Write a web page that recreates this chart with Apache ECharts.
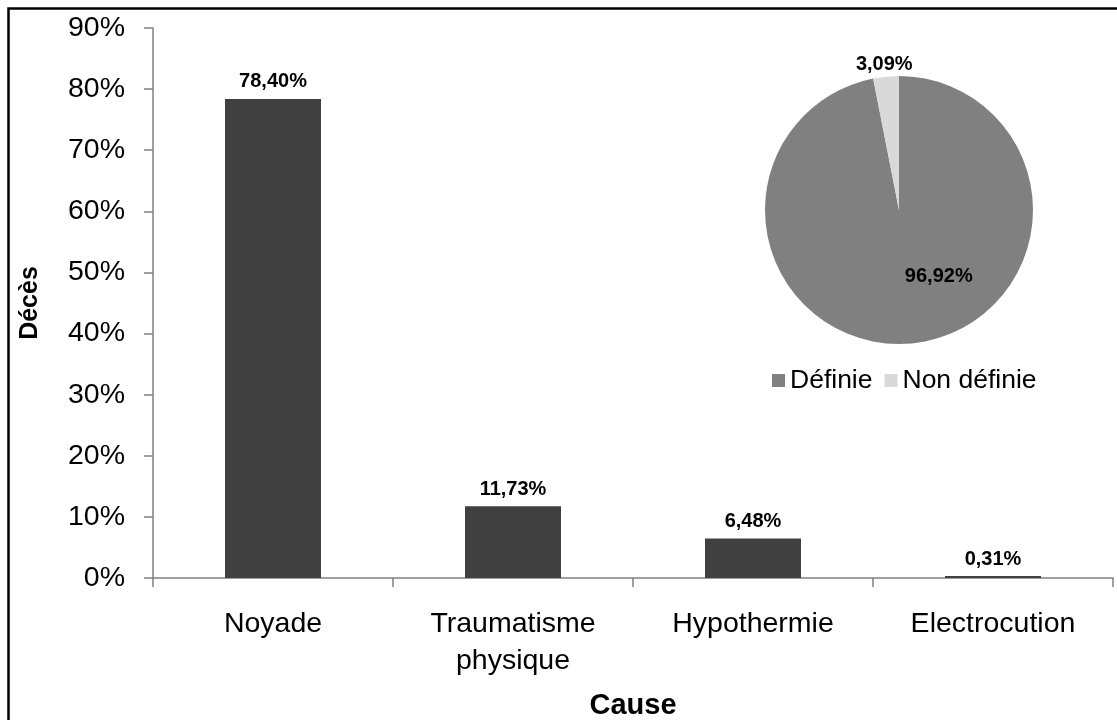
<!DOCTYPE html>
<html>
<head>
<meta charset="utf-8">
<style>
  html, body { margin: 0; padding: 0; background: #fff; }
  #chart { width: 1117px; height: 720px; }
</style>
<script src="https://cdn.jsdelivr.net/npm/echarts@6/dist/echarts.min.js"></script>
</head>
<body>
<div id="chart"></div>
<script>
// Causes de décès (barres) et part des causes définies (camembert)
const causes = ['Noyade', 'Traumatisme\nphysique', 'Hypothermie', 'Electrocution'];
const deathShares = [78.40, 11.73, 6.48, 0.31];
const pieNames = ['Définie', 'Non définie'];
const pieShares = [96.92, 3.09];
const yTicks = [0, 10, 20, 30, 40, 50, 60, 70, 80, 90];

const FONT = '"Liberation Sans", Arial, sans-serif';
const fmt = v => v.toFixed(2).replace('.', ',') + '%';

const chart = echarts.init(document.getElementById('chart'), null, { renderer: 'canvas' });

chart.setOption({
  backgroundColor: '#ffffff',
  animation: false,
  textStyle: { fontFamily: FONT },
  graphic: [{
    type: 'rect',
    shape: { x: 8.5, y: 8.5, width: 1200, height: 800 },
    style: { fill: 'none', stroke: '#000', lineWidth: 2.5 },
    silent: true
  }],
  grid: { left: 153, right: 4, top: 28, bottom: 142, containLabel: false, outerBoundsMode: 'none' },
  xAxis: {
    type: 'category',
    data: causes,
    name: 'Cause',
    nameLocation: 'middle',
    nameGap: 113,
    nameTextStyle: { fontFamily: FONT, fontSize: 29, fontWeight: 'bold', color: '#000' },
    axisLine: { lineStyle: { color: '#808080', width: 1.5 } },
    axisTick: { show: true, alignWithLabel: false, length: 9, lineStyle: { color: '#808080', width: 1.5 } },
    axisLabel: { fontFamily: FONT, fontSize: 28.5, color: '#000', margin: 28, lineHeight: 37, interval: 0 }
  },
  yAxis: {
    type: 'value',
    min: 0, max: 90, interval: 10,
    name: 'Décès',
    nameLocation: 'middle',
    nameGap: 110,
    nameRotate: 90,
    nameTextStyle: { fontFamily: FONT, fontSize: 25, fontWeight: 'bold', color: '#000' },
    axisLine: { show: true, lineStyle: { color: '#808080', width: 1.5 } },
    axisTick: { show: true, length: 9, lineStyle: { color: '#808080', width: 1.5 } },
    splitLine: { show: false },
    axisLabel: {
      fontFamily: FONT, fontSize: 28.5, color: '#000', margin: 28,
      formatter: v => (yTicks.includes(v) ? v + '%' : '')
    }
  },
  legend: {
    data: pieNames,
    left: 767,
    top: 362,
    itemWidth: 13,
    itemHeight: 13,
    itemGap: 12,
    icon: 'rect',
    textStyle: { fontFamily: FONT, fontSize: 26.5, color: '#000' }
  },
  series: [
    {
      type: 'bar',
      data: deathShares,
      barWidth: '40%',
      itemStyle: { color: '#404040' },
      label: {
        show: true, position: 'top', distance: 7,
        fontFamily: FONT, fontSize: 20, fontWeight: 'bold', color: '#000',
        formatter: p => fmt(p.value)
      }
    },
    {
      type: 'pie',
      center: [899, 210],
      radius: 134,
      startAngle: 90,
      clockwise: true,
      data: pieNames.map((n, i) => ({
        name: n,
        value: pieShares[i],
        itemStyle: { color: i === 0 ? '#808080' : '#d9d9d9' },
        label: i === 0
          ? { position: 'inside', offset: [33, -3] }
          : { position: 'outside', offset: [32, -8] }
      })),
      label: {
        show: true,
        fontFamily: FONT, fontSize: 20, fontWeight: 'bold', color: '#000',
        formatter: p => fmt(p.value)
      },
      labelLine: { show: false, length: 4, length2: 0 },
      emphasis: { disabled: true }
    }
  ]
});
</script>
</body>
</html>
